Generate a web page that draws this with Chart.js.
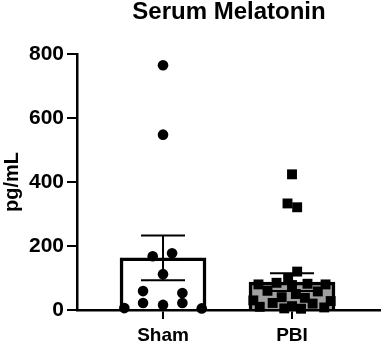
<!DOCTYPE html>
<html>
<head>
<meta charset="utf-8">
<script src="https://cdn.jsdelivr.net/npm/chart.js@4"></script>
<style>
  html, body { margin: 0; padding: 0; background: #fff; overflow: hidden; }
  canvas { display: block; }
</style>
</head>
<body>
<canvas id="melatoninChart" width="381" height="344"></canvas>
<script>
  // categories and group summaries (mean + SEM)
  const categories = ["Sham", "PBI"];
  const barMeans = [163, 87];
  const barSem = [70, 28];
  const yTicks = [0, 200, 400, 600, 800];

  // individual animals, jitter is in category units
  const shamValues = [765, 548, 168, 177, 112, 59, 53, 22, 22, 16, 6, 5];
  const shamJitter = [0, 0, -0.08, 0.07, 0, -0.155, 0.15, -0.155, 0.15, 0, -0.3, 0.3];
  const pbiValues = [424, 333, 321, 120, 100, 78, 85, 82, 80, 80, 60, 58, 50, 40, 38, 30, 28, 22, 20, 12, 10, 8, 5, 4];
  const pbiJitter = [0, -0.035, 0.04, 0.04, -0.03, 0, -0.12, 0.12, -0.26, 0.26, -0.19, 0.2, 0.03, -0.08, 0.1, -0.3, 0.3, -0.15, 0.16, 0, -0.25, 0.25, -0.06, 0.07];

  const fontFamily = "'Liberation Sans', Arial, sans-serif";

  const shamPoints = shamValues.map((v, i) => ({ x: 1 + shamJitter[i], y: v }));
  const pbiPoints = pbiValues.map((v, i) => ({ x: 2 + pbiJitter[i], y: v }));
  const barPoints = barMeans.map((m, i) => ({ x: i + 1, y: m }));

  // mean +/- SEM whiskers, drawn right after the bars so dots sit on top
  const errorBars = {
    id: "errorBars",
    afterDatasetDraw(chart, args) {
      if (args.index !== 0) return;
      const ctx = chart.ctx;
      const xs = chart.scales.x;
      const ys = chart.scales.y;
      ctx.save();
      ctx.strokeStyle = "#000";
      ctx.lineWidth = 2;
      barMeans.forEach((m, i) => {
        const x = xs.getPixelForValue(i + 1);
        const top = ys.getPixelForValue(m + barSem[i]);
        const bot = ys.getPixelForValue(Math.max(m - barSem[i], 0));
        ctx.beginPath();
        ctx.moveTo(x, bot);
        ctx.lineTo(x, top);
        ctx.moveTo(x - 22, top);
        ctx.lineTo(x + 22, top);
        ctx.moveTo(x - 22, bot);
        ctx.lineTo(x + 22, bot);
        ctx.stroke();
      });
      ctx.restore();
    }
  };

  new Chart(document.getElementById("melatoninChart"), {
    type: "scatter",
    data: {
      datasets: [
        {
          type: "bar",
          data: barPoints,
          backgroundColor: ["#ffffff", "#a0a0a0"],
          borderColor: "#000",
          borderWidth: 3.5,
          barThickness: 86,
          order: 2
        },
        {
          data: shamPoints,
          pointStyle: "circle",
          pointRadius: 5.3,
          pointBorderWidth: 0,
          backgroundColor: "#000",
          clip: false,
          order: 1
        },
        {
          data: pbiPoints,
          pointStyle: "rect",
          pointRadius: 7,
          pointBorderWidth: 0,
          backgroundColor: "#000",
          clip: false,
          order: 1
        }
      ]
    },
    options: {
      responsive: false,
      animation: false,
      layout: { autoPadding: false, padding: { left: 0, right: 0, top: 0, bottom: 0 } },
      plugins: {
        legend: { display: false },
        tooltip: { enabled: false },
        title: {
          display: true,
          text: "Serum Melatonin",
          fullSize: false,
          color: "#000",
          font: { family: fontFamily, size: 24, weight: "bold", lineHeight: 1 },
          padding: { top: 0, bottom: 30 }
        }
      },
      scales: {
        x: {
          type: "linear",
          offset: false,
          min: 0.333,
          max: 2.69,
          afterBuildTicks: (axis) => {
            axis.ticks = categories.map((c, i) => ({ value: i + 1 }));
          },
          afterFit: (axis) => {
            axis.height = 34;
            axis.paddingLeft = 0;
            axis.paddingRight = 0;
          },
          ticks: {
            color: "#000",
            font: { family: fontFamily, size: 19, weight: "bold", lineHeight: 0.4 },
            padding: 13,
            callback: (v) => categories[v - 1] || ""
          },
          grid: { offset: false, drawOnChartArea: false, drawTicks: true, tickLength: 9, color: "#000", lineWidth: 2 },
          border: { display: true, color: "#000", width: 2.5 }
        },
        y: {
          min: 0,
          max: 800,
          afterBuildTicks: (axis) => {
            axis.ticks = yTicks.map((v) => ({ value: v }));
          },
          afterFit: (axis) => {
            axis.width = 77;
          },
          ticks: {
            color: "#000",
            font: { family: fontFamily, size: 21, weight: "bold" },
            padding: 3
          },
          title: {
            display: true,
            text: "pg/mL",
            color: "#000",
            font: { family: fontFamily, size: 20, weight: "bold" },
            padding: { top: 0, bottom: 2 }
          },
          grid: { drawOnChartArea: false, drawTicks: true, tickLength: 10, color: "#000", lineWidth: 2 },
          border: { display: true, color: "#000", width: 2.5 }
        }
      }
    },
    plugins: [errorBars]
  });
</script>
</body>
</html>
